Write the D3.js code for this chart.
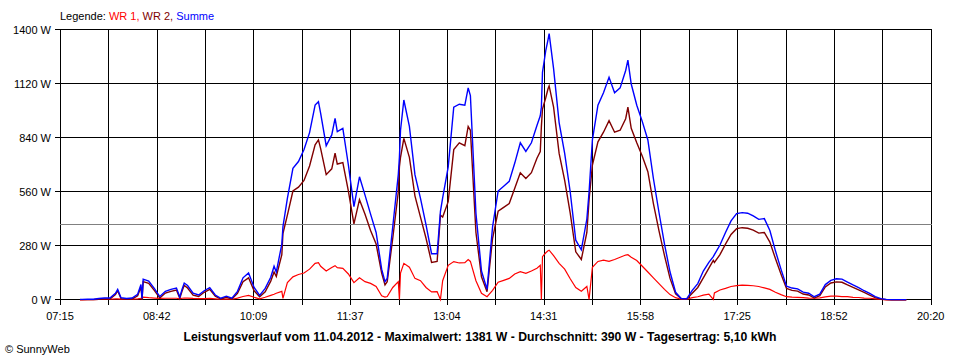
<!DOCTYPE html>
<html><head><meta charset="utf-8">
<script src="https://cdn.jsdelivr.net/npm/d3@7"></script>
<style>
body{margin:0;background:#fff;}
svg{display:block;font-family:"Liberation Sans",Arial,sans-serif;}
</style>
</head><body>
<svg id="chart" width="960" height="360"></svg>
<script>
// ---- data ----
const times = ["07:33","07:35","07:40","07:45","07:50","07:55","08:00","08:05","08:07","08:10","08:15","08:20","08:25","08:28","08:29","08:30","08:35","08:40","08:45","08:50","08:55","09:00","09:03","09:05","09:07","09:10","09:15","09:20","09:25","09:30","09:35","09:40","09:45","09:50","09:55","10:00","10:05","10:10","10:15","10:20","10:25","10:28","10:30","10:35","10:36","10:40","10:45","10:50","10:55","11:00","11:05","11:08","11:10","11:15","11:20","11:23","11:25","11:30","11:35","11:40","11:45","11:50","11:55","12:00","12:05","12:08","12:10","12:15","12:20","12:21","12:22","12:25","12:30","12:35","12:40","12:45","12:50","12:55","12:58","13:00","13:05","13:10","13:15","13:20","13:23","13:25","13:30","13:35","13:40","13:45","13:50","13:55","14:00","14:05","14:10","14:15","14:20","14:25","14:28","14:29","14:30","14:33","14:35","14:36","14:40","14:45","14:50","14:55","15:00","15:05","15:10","15:12","15:15","15:20","15:25","15:30","15:35","15:40","15:45","15:47","15:50","15:55","16:00","16:05","16:10","16:15","16:20","16:25","16:30","16:35","16:40","16:45","16:50","16:55","17:00","17:04","17:05","17:10","17:15","17:20","17:25","17:30","17:35","17:40","17:45","17:50","17:55","18:00","18:05","18:10","18:15","18:20","18:25","18:30","18:35","18:40","18:45","18:50","18:55","19:00","19:05","19:10","19:15","19:20","19:25","19:30","19:35","19:40","19:45","19:50","19:55","19:58"];

const summe = [3,3,4,4,8,10,10,35,55,12,8,10,30,80,8,108,98,60,18,45,55,62,15,55,88,75,35,26,48,64,26,9,20,9,45,115,140,65,24,60,118,175,145,290,380,527,683,718,780,868,1011,1028,968,800,856,942,873,890,700,484,639,544,445,350,160,95,112,380,650,740,880,1037,900,650,527,389,240,240,460,530,690,1000,1015,1010,1100,1060,450,150,55,380,565,590,615,710,815,770,815,905,955,1000,1180,1295,1350,1381,1200,920,760,560,310,260,420,560,830,1010,1075,1155,1075,1100,1190,1244,1120,1010,925,830,630,455,290,145,40,8,6,50,85,150,195,225,235,285,350,410,448,453,450,436,418,422,360,255,160,72,62,58,41,35,17,30,80,102,110,108,93,78,64,48,34,18,7,3,2,2,2,2];

const wr2 = [2,2,2,2,4,5,5,28,48,7,4,5,22,68,3,95,86,50,10,36,45,52,8,45,76,62,25,18,40,55,20,5,14,5,35,95,115,48,17,43,98,145,122,235,345,440,565,585,620,695,805,830,785,650,680,761,705,712,565,395,520,445,360,290,140,78,95,320,560,690,740,838,740,540,430,320,195,200,440,430,510,780,815,800,900,880,350,120,43,320,460,480,500,580,660,630,660,735,770,900,990,1050,1095,1110,1000,760,620,450,250,210,350,520,700,820,870,930,870,880,940,1000,890,815,745,665,500,360,230,112,32,8,5,35,65,115,165,205,195,235,290,340,370,375,372,362,347,350,300,215,135,60,50,46,31,26,10,22,68,88,94,92,78,66,53,39,25,12,5,2,1,1,1,1];

const wr1 = [1,1,2,2,3,4,4,6,6,5,4,5,6,8,5,15,12,10,8,9,9,9,6,9,10,10,8,7,7,8,6,4,5,4,10,18,24,14,6,14,24,30,35,45,8,90,120,132,140,160,190,194,175,150,168,178,168,164,135,90,115,95,86,70,22,15,18,65,95,3,140,190,170,112,100,65,42,43,3,100,180,199,192,194,210,200,100,35,17,50,92,102,112,135,147,138,150,165,180,3,225,245,255,258,230,190,160,110,65,45,70,3,170,200,207,200,210,222,233,235,222,205,175,145,115,85,55,28,12,4,4,12,17,25,30,3,37,52,60,70,75,77,76,74,70,63,55,40,28,17,15,14,12,10,9,11,16,20,20,18,17,14,13,10,9,6,3,1,1,1,1,1];

const yTickValues = [0, 280, 560, 840, 1120, 1400];
const xTickLabels = ["07:15","08:42","10:09","11:37","13:04","14:31","15:58","17:25","18:52","20:20"];
const xStart = "07:15", xEnd = "20:20";
const average = 390;
const seriesNames = ["WR 1", "WR 2", "Summe"];
const seriesColors = ["#ff0000", "#800000", "#0000ff"];
const titleText = "Leistungsverlauf vom 11.04.2012 - Maximalwert: 1381 W - Durchschnitt: 390 W - Tagesertrag: 5,10 kWh";
const copyrightText = "\u00A9 SunnyWeb";

// ---- drawing ----
const toMin = s => { const [h, m] = s.split(":").map(Number); return h * 60 + m; };
const svg = d3.select("#chart");
const L = 60, R = 930.7, T = 30, B = 300;
const x = d3.scaleLinear().domain([toMin(xStart), toMin(xEnd)]).range([L, R]);
const y = d3.scaleLinear().domain([0, 1400]).range([B, T]);
const cr = v => Math.round(v) + 0.5;

const grid = svg.append("g").attr("shape-rendering", "crispEdges");
// vertical grid lines (18 intervals, labels every second)
const nV = (xTickLabels.length - 1) * 2;
const span = toMin(xEnd) - toMin(xStart);
d3.range(nV + 1).forEach(i => {
  const px = cr(x(toMin(xStart) + i * span / nV));
  grid.append("line").attr("x1", px).attr("x2", px).attr("y1", T).attr("y2", B + 5)
    .attr("stroke", "#000").attr("stroke-width", 1);
});
// horizontal grid lines
yTickValues.forEach(v => {
  const py = cr(y(v)) - 1;
  grid.append("line").attr("x1", L - 5).attr("x2", cr(R)).attr("y1", py).attr("y2", py)
    .attr("stroke", "#000").attr("stroke-width", 1);
});
// average line
grid.append("line").attr("x1", L).attr("x2", cr(R))
  .attr("y1", cr(y(average)) - 1).attr("y2", cr(y(average)) - 1)
  .attr("stroke", "#808080").attr("stroke-width", 1);

// y labels
svg.append("g").selectAll("text").data(yTickValues).join("text")
  .attr("x", 51).attr("y", v => y(v) + 3.5)
  .attr("text-anchor", "end").attr("font-size", 11).attr("fill", "#000")
  .text(v => v + " W");
// x labels
svg.append("g").selectAll("text").data(xTickLabels).join("text")
  .attr("x", (d, i) => x(toMin(xStart) + i * span / (xTickLabels.length - 1)))
  .attr("y", 320).attr("text-anchor", "middle").attr("font-size", 11).attr("fill", "#000")
  .text(d => d);

// series
const seriesData = [wr1, wr2, summe];
const line = d3.line().x((d, i) => x(toMin(times[i]))).y(d => y(d));
seriesData.forEach((vals, k) => {
  svg.append("path").datum(vals).attr("d", line)
    .attr("fill", "none").attr("stroke", seriesColors[k])
    .attr("stroke-width", k === 0 ? 1.2 : 1.4).attr("stroke-linejoin", "miter");
});

// legend
const leg = svg.append("text").attr("x", 60).attr("y", 20).attr("font-size", 11);
leg.append("tspan").attr("fill", "#000").text("Legende: ");
seriesNames.forEach((n, k) => {
  leg.append("tspan").attr("fill", seriesColors[k]).text(n + (k < seriesNames.length - 1 ? ", " : ""));
});

// title
const title = svg.append("text").attr("x", 480).attr("y", 341).attr("text-anchor", "middle")
  .attr("font-size", 12).attr("font-weight", "bold").attr("fill", "#000").text(titleText);
const tl = title.node().getComputedTextLength();
if (Math.abs(tl - 593) > 8) title.attr("textLength", 593).attr("lengthAdjust", "spacingAndGlyphs");

svg.append("text").attr("x", 5).attr("y", 353).attr("font-size", 11).attr("fill", "#000").text(copyrightText);
</script>
</body></html>
